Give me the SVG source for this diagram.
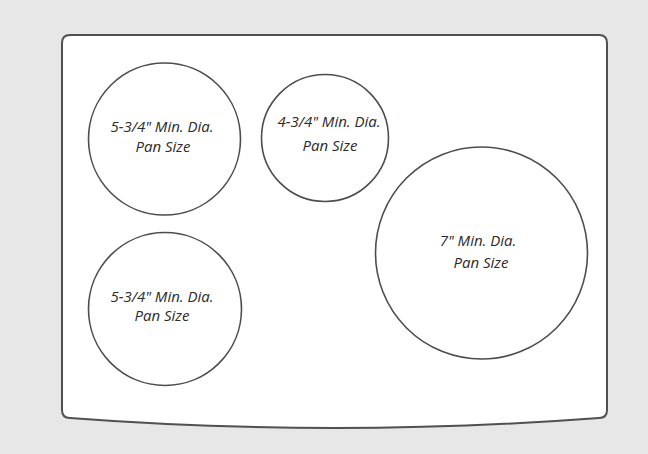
<svg xmlns="http://www.w3.org/2000/svg" width="648" height="454" viewBox="0 0 648 454">
  <style>
    .burner { fill: none; stroke: #4d4d4d; stroke-width: 1.6; }
    .lbl { font-family: "Open Sans", "DejaVu Sans", sans-serif; font-style: italic; font-weight: 400; font-size: 15px; fill: #2b2b2b; text-anchor: middle; }
    .top { fill: #ffffff; stroke: #505050; stroke-width: 2; }
  </style>
  <rect x="0" y="0" width="648" height="454" fill="#e7e7e7"/>
  <g id="cooktop">
    <path class="top" d="M 70 35 L 599 35 Q 607 35 607 43 L 607 410 Q 607 418 599 418 Q 334.5 438 70 418 Q 62 418 62 410 L 62 43 Q 62 35 70 35 Z"/>
  </g>
  <g id="burner-left-rear">
    <circle class="burner" cx="164.5" cy="139" r="76"/>
    <text class="lbl" x="162" y="132">5-3/4" Min. Dia.</text>
    <text class="lbl" x="163" y="152">Pan Size</text>
  </g>
  <g id="burner-center-rear">
    <circle class="burner" cx="325" cy="138" r="63.5"/>
    <text class="lbl" x="329" y="127">4-3/4" Min. Dia.</text>
    <text class="lbl" x="330" y="151">Pan Size</text>
  </g>
  <g id="burner-right">
    <circle class="burner" cx="481.5" cy="253" r="106"/>
    <text class="lbl" x="478" y="246">7" Min. Dia.</text>
    <text class="lbl" x="481" y="268">Pan Size</text>
  </g>
  <g id="burner-left-front">
    <circle class="burner" cx="165" cy="309" r="76.5"/>
    <text class="lbl" x="162" y="302">5-3/4" Min. Dia.</text>
    <text class="lbl" x="162" y="321">Pan Size</text>
  </g>
  <g id="connectors"/>
</svg>
